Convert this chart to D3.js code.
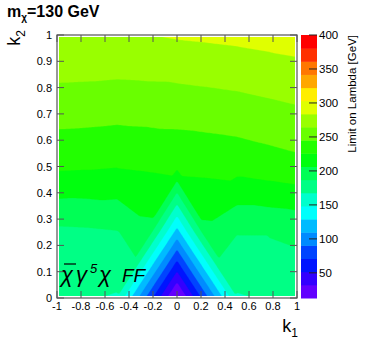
<!DOCTYPE html>
<html>
<head>
<meta charset="utf-8">
<script src="https://cdn.jsdelivr.net/npm/d3@7"></script>
<style>
  body { margin: 0; background: #fff; }
  svg text { font-family: "Liberation Sans", Arial, Helvetica, sans-serif; }
</style>
</head>
<body>
<svg id="chart" width="374" height="351"></svg>
<script>
// Scan points (k1, k2) and the limit on Lambda [GeV] at each one
const k1Values = [-1, -0.75, -0.5, -0.25, 0, 0.25, 0.5, 0.75, 1];
const k2Values = [0, 0.25, 0.5, 0.75, 1];
const lambdaK2_000 = [176, 169, 166, 86, 4, 86, 166, 169, 178];
const lambdaK2_025 = [183, 184, 186, 200, 121, 201, 188, 188, 190];
const lambdaK2_050 = [229, 228, 226.5, 228, 230, 231, 232.6, 236, 239.5];
const lambdaK2_075 = [257.6, 257, 255.9, 256.5, 256.8, 258.5, 260.4, 263.3, 266.3];
const lambdaK2_100 = [283, 282.7, 282.3, 283.5, 285.9, 287.2, 288.7, 290.7, 292.7];
const lambdaRows = [lambdaK2_000, lambdaK2_025, lambdaK2_050, lambdaK2_075, lambdaK2_100];

const xTicks = [-1, -0.8, -0.6, -0.4, -0.2, 0, 0.2, 0.4, 0.6, 0.8, 1];
const yTicks = [0, 0.1, 0.2, 0.3, 0.4, 0.5, 0.6, 0.7, 0.8, 0.9, 1];
const zTicks = [50, 100, 150, 200, 250, 300, 350, 400];
const zMin = 13;
const zMax = 400;
const nLevels = 20;

const svg = d3.select("#chart");

// frame
const x = d3.scaleLinear().domain([-1, 1]).range([57, 297]);
const y = d3.scaleLinear().domain([0, 1]).range([298, 35]);

// ROOT "pretty palette": 50 hues from violet to red, 20 contour colours taken from it
function levelColor(k) {
  const idx = Math.floor((k + 0.99) * 50 / nLevels);
  const hue = 280 - (idx + 1) * 5.6;
  return d3.hsl(hue, 1, 0.5).formatHex();
}
const levels = d3.range(nLevels + 1).map((k) => zMin + k * (zMax - zMin) / nLevels);

// linear interpolation on the triangles of each grid cell
function lambdaAt(k1, k2) {
  let i = d3.bisectRight(k1Values, k1) - 1;
  let j = d3.bisectRight(k2Values, k2) - 1;
  i = Math.max(0, Math.min(k1Values.length - 2, i));
  j = Math.max(0, Math.min(k2Values.length - 2, j));
  const u = (k1 - k1Values[i]) / (k1Values[i + 1] - k1Values[i]);
  const v = (k2 - k2Values[j]) / (k2Values[j + 1] - k2Values[j]);
  const bl = lambdaRows[j][i], br = lambdaRows[j][i + 1];
  const tl = lambdaRows[j + 1][i], tr = lambdaRows[j + 1][i + 1];
  if (Math.abs(bl - tr) <= Math.abs(br - tl)) {
    // diagonal bl-tr
    if (u >= v) return bl + u * (br - bl) + v * (tr - br);
    return bl + v * (tl - bl) + u * (tr - tl);
  }
  // diagonal br-tl
  if (u + v <= 1) return bl + u * (br - bl) + v * (tl - bl);
  return tr + (1 - u) * (tl - tr) + (1 - v) * (br - tr);
}

// sample on a fine histogram, like TGraph2D does before drawing
const nx = 160, ny = 130;
const grid = new Array(nx * ny);
for (let j = 0; j < ny; j++) {
  for (let i = 0; i < nx; i++) {
    const k1 = -1 + (i + 0.5) * 2 / nx;
    const k2 = 1 - (j + 0.5) / ny;
    grid[j * nx + i] = lambdaAt(k1, k2);
  }
}
const contours = d3.contours().size([nx, ny]).thresholds(levels.slice(1, nLevels))(grid);

svg.append("clipPath").attr("id", "plotclip")
  .append("rect").attr("x", 59).attr("y", 37).attr("width", 236).attr("height", 259);

const plot = svg.append("g").attr("clip-path", "url(#plotclip)");
plot.append("rect").attr("x", 57).attr("y", 35).attr("width", 240).attr("height", 263)
  .attr("fill", levelColor(0));

const toPx = d3.geoTransform({
  point: function (gx, gy) {
    this.stream.point(57 + gx * 240 / nx, 35 + gy * 263 / ny);
  }
});
const path = d3.geoPath(toPx);
plot.selectAll("path.band")
  .data(contours)
  .join("path")
  .attr("class", "band")
  .attr("d", path)
  .attr("fill", (d, i) => levelColor(i + 1))
  .attr("stroke", (d, i) => levelColor(i + 1))
  .attr("stroke-width", 0.3);

// frame and ticks
const frameColor = "#555";
svg.append("rect").attr("x", 57).attr("y", 35).attr("width", 240).attr("height", 263)
  .attr("fill", "none").attr("stroke", frameColor).attr("stroke-width", 1.2);

const tickLen = 7;
xTicks.forEach((t) => {
  svg.append("line").attr("x1", x(t)).attr("x2", x(t)).attr("y1", 298).attr("y2", 298 - tickLen)
    .attr("stroke", frameColor);
  svg.append("line").attr("x1", x(t)).attr("x2", x(t)).attr("y1", 35).attr("y2", 35 + tickLen)
    .attr("stroke", frameColor);
  svg.append("text").attr("x", x(t)).attr("y", 310).attr("text-anchor", "middle")
    .attr("font-size", 11).text(String(t));
});
yTicks.forEach((t) => {
  svg.append("line").attr("x1", 57).attr("x2", 57 + tickLen).attr("y1", y(t)).attr("y2", y(t))
    .attr("stroke", frameColor);
  svg.append("line").attr("x1", 297).attr("x2", 297 - tickLen).attr("y1", y(t)).attr("y2", y(t))
    .attr("stroke", frameColor);
  svg.append("text").attr("x", 52).attr("y", y(t) + 4).attr("text-anchor", "end")
    .attr("font-size", 11).text(String(t));
});

// colour bar
const z = d3.scaleLinear().domain([zMin, zMax]).range([298, 35]);
svg.append("g").selectAll("rect")
  .data(d3.range(nLevels))
  .join("rect")
  .attr("x", 301)
  .attr("width", 16)
  .attr("y", (k) => z(levels[k + 1]))
  .attr("height", (k) => z(levels[k]) - z(levels[k + 1]) + 0.5)
  .attr("fill", (k) => levelColor(k));
zTicks.forEach((t) => {
  svg.append("line").attr("x1", 317).attr("x2", 309).attr("y1", z(t)).attr("y2", z(t))
    .attr("stroke", "#222");
  svg.append("text").attr("x", 319).attr("y", z(t) + 4).attr("font-size", 11.5).text(t);
});
svg.append("text")
  .attr("transform", "translate(356,35) rotate(-90)")
  .attr("text-anchor", "end")
  .attr("font-size", 11.5)
  .text("Limit on Lambda [GeV]");

// titles
const title = svg.append("text").attr("x", 7).attr("y", 17).attr("font-size", 16).attr("font-weight", "bold");
title.append("tspan").text("m");
title.append("tspan").attr("font-size", 10).attr("dy", 4).text("χ");
title.append("tspan").attr("dy", -4).text("=130 GeV");

const xTitle = svg.append("text").attr("x", 298).attr("y", 332).attr("text-anchor", "end").attr("font-size", 18);
xTitle.append("tspan").text("k");
xTitle.append("tspan").attr("font-size", 12).attr("dy", 5).text("1");

const yTitle = svg.append("text").attr("transform", "translate(20,30) rotate(-90)")
  .attr("text-anchor", "end").attr("font-size", 18);
yTitle.append("tspan").text("k");
yTitle.append("tspan").attr("font-size", 12).attr("dy", 5).text("2");

// operator label
const label = svg.append("text").attr("y", 282).attr("font-style", "italic");
label.append("tspan").attr("x", 61).attr("font-size", 22).text("χ");
label.append("tspan").attr("x", 76).attr("font-size", 22).text("γ");
label.append("tspan").attr("x", 90).attr("font-size", 13).attr("dy", -9).text("5");
label.append("tspan").attr("x", 99).attr("font-size", 22).attr("dy", 9).text("χ");
label.append("tspan").attr("x", 122).attr("font-size", 19).text("FF");
svg.append("line").attr("x1", 64).attr("x2", 76).attr("y1", 264).attr("y2", 264)
  .attr("stroke", "#000").attr("stroke-width", 1.2);
</script>
</body>
</html>
